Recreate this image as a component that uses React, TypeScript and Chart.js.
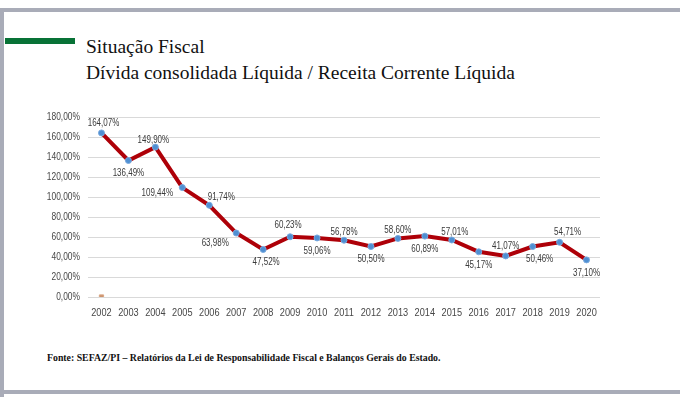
import React, { useEffect, useRef } from "react";
import { Chart, registerables } from "chart.js";

Chart.register(...registerables);

const years = ["2002","2003","2004","2005","2006","2007","2008","2009","2010","2011","2012","2013","2014","2015","2016","2017","2018","2019","2020"];
const ratio = [164.07,136.49,149.90,109.44,91.74,63.98,47.52,60.23,59.06,56.78,50.50,58.60,60.89,57.01,45.17,41.07,50.46,54.71,37.10];
const secondSeries = [0,null,null,null,null,null,null,null,null,null,null,null,null,null,null,null,null,null,null];
const yTicks = [0,20,40,60,80,100,120,140,160,180];

// label placement (style): offset of each label centre from its point
const labelOffsets: [number, number][] = [
  [2,-10],[0,13],[-2,-7],[-25,6],[12,-8],[-21,10],[3,13],[-2,-12],[0,13],[0,-8],
  [0,13],[0,-8],[0,13],[3,-8],[0,13],[0,-10],[7,13],[8,-10],[0,13],
];

const fmt = (v: number) => v.toFixed(2).replace(".", ",") + "%";
const SANS = "'Liberation Sans', Arial, sans-serif";
const SQUEEZE = 0.8;

function narrowText(ctx: CanvasRenderingContext2D, text: string, x: number, y: number, align: CanvasTextAlign) {
  ctx.save();
  ctx.translate(x, y);
  ctx.scale(SQUEEZE, 1);
  ctx.textAlign = align;
  ctx.textBaseline = "middle";
  ctx.fillText(text, 0, 0);
  ctx.restore();
}

const textPlugin = {
  id: "narrowTexts",
  afterDraw(chart: any) {
    const ctx = chart.ctx;
    const area = chart.chartArea;
    const xs = chart.scales.x;
    const ys = chart.scales.y;
    ctx.save();
    ctx.fillStyle = "#474747";
    ctx.font = `10.5px ${SANS}`;
    yTicks.forEach((v) => narrowText(ctx, fmt(v), area.left - 8, ys.getPixelForValue(v), "right"));
    ctx.font = `11.5px ${SANS}`;
    years.forEach((y, i) => narrowText(ctx, y, xs.getPixelForValue(i), area.bottom + 16, "center"));
    ctx.fillStyle = "#3A3A3A";
    ctx.font = `10px ${SANS}`;
    const meta = chart.getDatasetMeta(0);
    meta.data.forEach((pt: any, i: number) => {
      const [dx, dy] = labelOffsets[i];
      narrowText(ctx, fmt(ratio[i]), pt.x + dx, pt.y + dy, "center");
    });
    ctx.restore();
  },
};

export default function App() {
  const ref = useRef<HTMLCanvasElement | null>(null);
  useEffect(() => {
    if (!ref.current) return;
    const chart = new Chart(ref.current, {
      type: "line",
      data: {
        labels: years,
        datasets: [
          {
            data: ratio,
            borderColor: "#AE0008",
            borderWidth: 4,
            pointRadius: 3,
            pointBackgroundColor: "#4F8FD2",
            pointBorderColor: "#78A9DE",
            pointBorderWidth: 1,
            tension: 0,
          },
          {
            data: secondSeries,
            showLine: false,
            pointStyle: "rect",
            pointRadius: 3,
            pointBackgroundColor: "#CC936C",
            pointBorderColor: "#D9A684",
            pointBorderWidth: 1,
          },
        ],
      },
      options: {
        animation: false,
        responsive: false,
        maintainAspectRatio: false,
        layout: { padding: { left: 0, right: 20, top: 17, bottom: 0 } },
        plugins: { legend: { display: false }, tooltip: { enabled: false } },
        scales: {
          x: {
            offset: true,
            grid: { display: false },
            border: { display: false },
            ticks: { display: false },
            afterFit: (s: any) => { s.height = 28; },
          },
          y: {
            min: 0,
            max: 180,
            afterBuildTicks: (s: any) => { s.ticks = yTicks.map((v) => ({ value: v })); },
            grid: { color: "#D9D9D9", lineWidth: 1, drawTicks: false },
            border: { display: false },
            ticks: { display: false },
            afterFit: (s: any) => { s.width = 88; },
          },
        },
      },
      plugins: [textPlugin],
    });
    return () => chart.destroy();
  }, []);

  return (
    <div style={{ position: "fixed", left: 0, top: 0, width: 680, height: 397, background: "#fff", overflow: "hidden" }}>
      <div style={{ position: "absolute", left: 0, top: 8, width: 680, height: 4, background: "#A9ACB8" }} />
      <div style={{ position: "absolute", left: 0, top: 8, width: 4, height: 389, background: "#A9ACB8" }} />
      <div style={{ position: "absolute", left: 0, top: 390, width: 680, height: 4, background: "#A9ACB8" }} />
      <div style={{ position: "absolute", left: 5, top: 38, width: 70, height: 6, background: "#087236" }} />
      <div style={{ position: "absolute", left: 86, top: 34, fontFamily: "'Liberation Serif', 'Times New Roman', serif", fontSize: 19.5, lineHeight: "26px", color: "#111", whiteSpace: "nowrap" }}>
        <div>Situação Fiscal</div>
        <div>Dívida consolidada Líquida / Receita Corrente Líquida</div>
      </div>
      <canvas ref={ref} width={620} height={225} style={{ position: "absolute", left: 0, top: 100, width: 620, height: 225 }} />
      <div style={{ position: "absolute", left: 47, top: 352, fontFamily: "'Liberation Serif', 'Times New Roman', serif", fontWeight: "bold", fontSize: 10, color: "#111", whiteSpace: "nowrap", transform: "scaleX(0.98)", transformOrigin: "left center" }}>
        Fonte: SEFAZ/PI – Relatórios da Lei de Responsabilidade Fiscal e Balanços Gerais do Estado.
      </div>
    </div>
  );
}
